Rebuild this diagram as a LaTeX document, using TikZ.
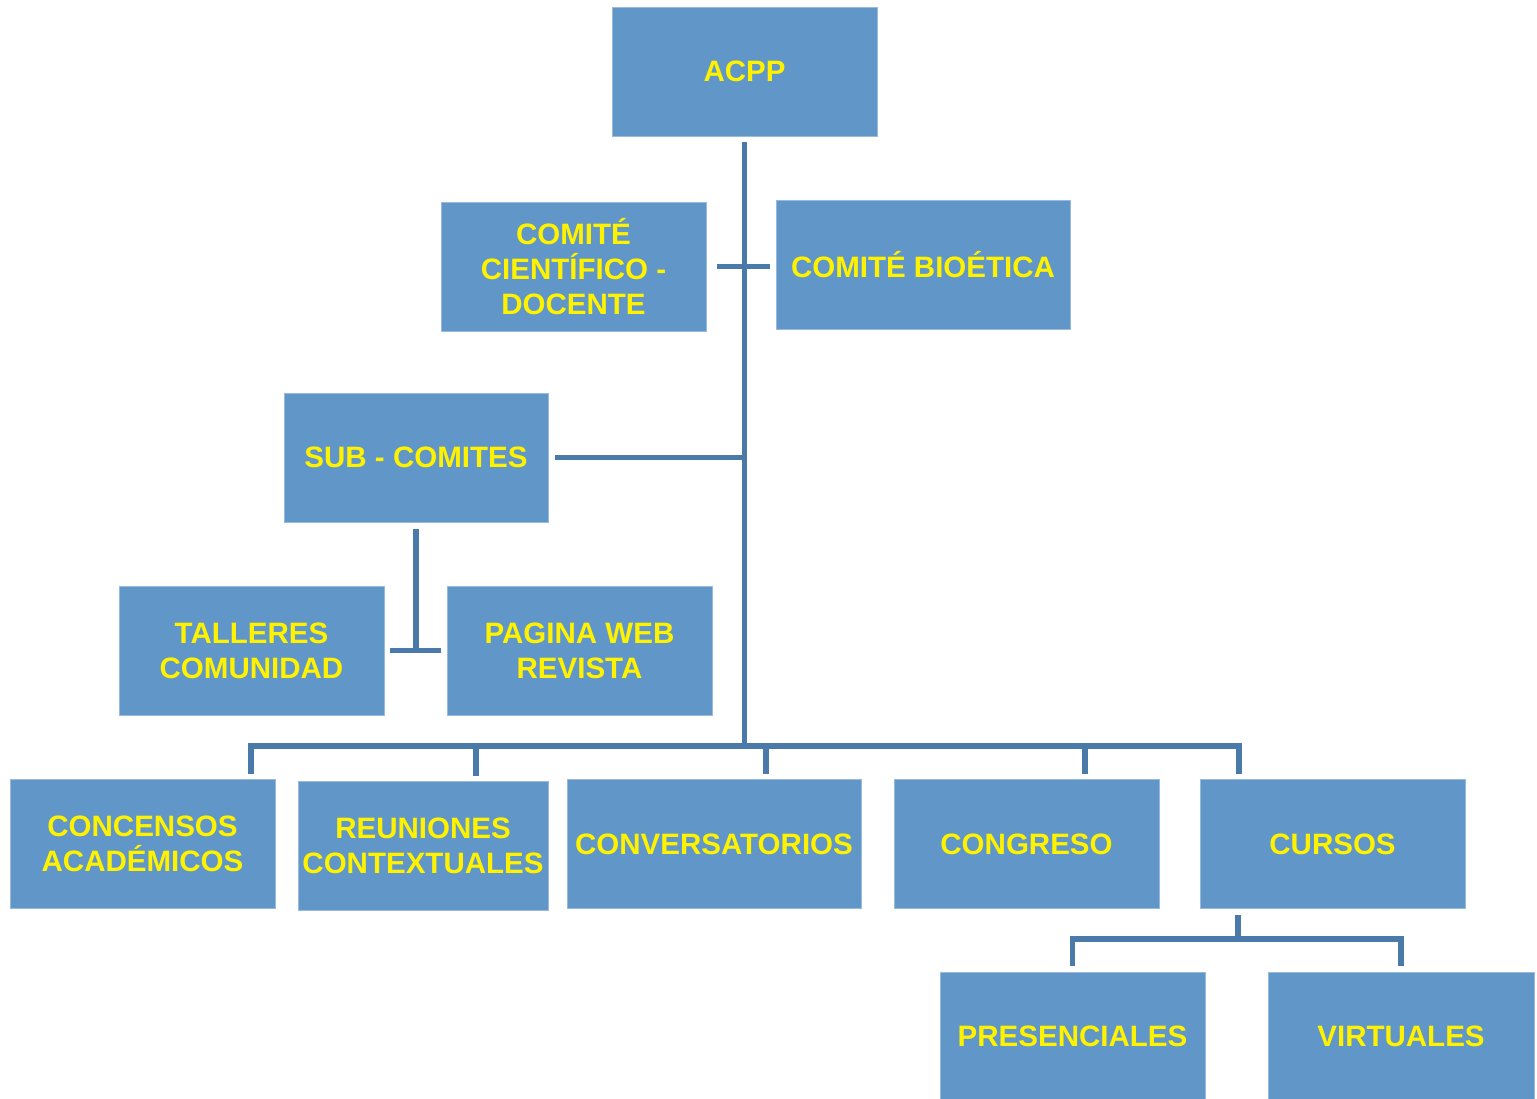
\documentclass[tikz,border=0pt]{standalone}
\usepackage{fontspec}
\setmainfont{Liberation Sans}
\usepackage{tikz}
\usetikzlibrary{positioning}
\usetikzlibrary{calc}
\definecolor{boxblue}{RGB}{96,150,200}
\definecolor{lineblue}{RGB}{74,122,170}
\tikzstyle{orgbox}=[rectangle,fill=boxblue,draw=boxblue!65!white,line width=0.5pt,minimum height=2.58cm,inner sep=0pt,align=center,text=yellow,font=\bfseries\fontsize{16.8}{19.9}\selectfont]
\tikzstyle{link} = [draw,lineblue,line width=3pt]

\begin{document}
\begin{tikzpicture}[x=0.02cm,y=-0.02cm]
    \useasboundingbox (0,0) rectangle (1537,1098);

    % First we draw the boxes
    \foreach \pos/\name/\w/\label in {{(744.5,71.5)/acpp/5.3cm/ACPP}, {(573.5,266.5)/cientifico/5.3cm/{COMITÉ\\CIENTÍFICO -\\DOCENTE}}, {(923,264.5)/bioetica/5.88cm/COMITÉ BIOÉTICA}, {(416,457.5)/subcomites/5.28cm/SUB - COMITES}, {(251.5,650.5)/talleres/5.3cm/{TALLERES\\COMUNIDAD}}, {(579.5,650.5)/paginaweb/5.3cm/{PAGINA WEB\\REVISTA}}}
        \node[orgbox, minimum width=\w] (\name) at \pos {\label};
    \foreach \pos/\name/\w/\label in {{(142.5,844)/concensos/5.3cm/{CONCENSOS\\ACADÉMICOS}}, {(423,846)/reuniones/5cm/{REUNIONES\\CONTEXTUALES}}, {(714,844)/conversatorios/5.88cm/CONVERSATORIOS}, {(1026.5,844)/congreso/5.3cm/CONGRESO}, {(1332.5,844)/cursos/5.3cm/CURSOS}, {(1072.5,1036.5)/presenciales/5.3cm/PRESENCIALES}, {(1401,1036.5)/virtuales/5.32cm/VIRTUALES}}
        \node[orgbox, minimum width=\w] (\name) at \pos {\label};

    % Then the trunk and its branches
    \coordinate (busL) at (251,746);
    \coordinate (busR) at (1239,746);
    \path[link, shorten <=0.12cm] (acpp.south) -- (acpp.south |- busL);
    \path[link, shorten <=0.22cm, shorten >=0.12cm] (cientifico.east) -- (cientifico.east -| bioetica.west);
    \path[link, shorten <=0.14cm] (subcomites.east) -- (subcomites.east -| acpp.south);

    % Sub - comites
    \coordinate (subjoint) at (416,650);
    \path[link, shorten <=0.14cm] (subcomites.south) -- (subjoint);
    \path[link, shorten <=0.12cm, shorten >=0.12cm] (talleres.east) -- (paginaweb.west);

    % Bottom row
    \path[link, line cap=rect] (busL) -- (busR);
    \foreach \dest/\xx in {concensos/251, reuniones/476, conversatorios/766, congreso/1085, cursos/1239}
          \path[link, line cap=rect, shorten >=0.15cm] (\xx,746) -- (\xx,0 |- \dest.north);

    % Cursos
    \coordinate (cursosjoint) at (1238,939);
    \path[link, shorten <=0.12cm] (1238,0 |- cursos.south) -- (cursosjoint);
    \path[link, shorten <=0.12cm, shorten >=0.12cm] (presenciales.north) |- (cursosjoint) -| (virtuales.north);

\end{tikzpicture}
\end{document}
